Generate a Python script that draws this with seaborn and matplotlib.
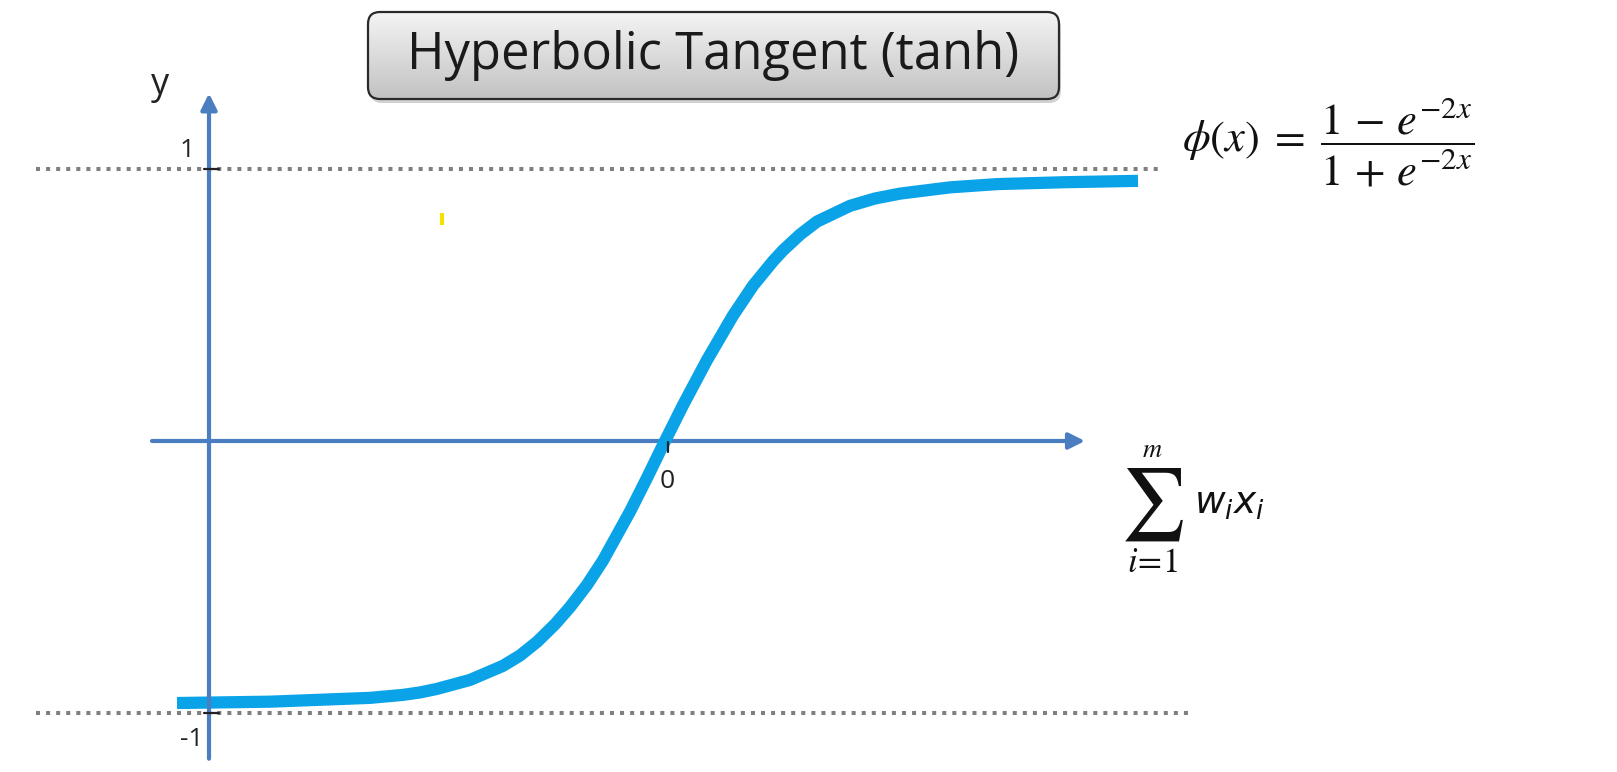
import numpy as np
import matplotlib
matplotlib.use("Agg")
import matplotlib.pyplot as plt
from matplotlib.patches import FancyBboxPatch
from matplotlib.colors import LinearSegmentedColormap
import pandas as pd
import seaborn as sns

# points (x: input, y: output)
curve_x = [-4.88, -3.95, -2.95, -2.62, -2.45, -2.28, -1.95, -1.62, -1.45, -1.28, -1.10,
           -0.95, -0.78, -0.62, -0.35, -0.18, -0.02, 0.18, 0.42, 0.68, 0.88, 1.08,
           1.18, 1.35, 1.52, 1.85, 2.10, 2.35, 2.85, 3.32, 4.00, 4.73]
curve_y = [-0.965, -0.960, -0.946, -0.935, -0.926, -0.913, -0.880, -0.828, -0.790, -0.740, -0.675,
           -0.612, -0.530, -0.440, -0.260, -0.136, -0.015, 0.132, 0.298, 0.462, 0.572, 0.662,
           0.702, 0.760, 0.808, 0.866, 0.893, 0.911, 0.934, 0.946, 0.953, 0.958]

# axis extents and guide lines
x_axis_span = [-5.13, 4.20]
y_axis_span = [-1.17, 1.28]
y_axis_pos = -4.56
top_guide_span = [-6.29, 4.97]
bottom_guide_span = [-6.29, 5.28]

title = "Hyperbolic Tangent (tanh)"
formula = r"$\phi(x)\;=\;\dfrac{1\,-\,e^{-2x}}{1\,+\,e^{-2x}}$"

W, H = 1617, 772
sns.set_style("white")
plt.rcParams["font.family"] = ["Open Sans", "DejaVu Sans"]
plt.rcParams["mathtext.fontset"] = "stix"

fig = plt.figure(figsize=(W / 100, H / 100), dpi=100)
ax = fig.add_axes([0, 0, 1, 1])

axis_col = "#4A7EC0"
guide_col = "#7f7f7f"

# dotted guide lines at +1 / -1
ax.plot(top_guide_span, [1, 1], color=guide_col, lw=2.9, ls=(0, (1, 1.5)),
        dash_capstyle="butt", zorder=1)
ax.plot(bottom_guide_span, [-1, -1], color=guide_col, lw=2.9, ls=(0, (1, 1.5)),
        dash_capstyle="butt", zorder=1)

# x axis (under the curve)
ax.annotate("", xy=(x_axis_span[1], 0), xytext=(x_axis_span[0], 0),
            arrowprops=dict(arrowstyle="-|>", color=axis_col, lw=3, mutation_scale=24,
                            shrinkA=0, shrinkB=0), zorder=2)

# curve
df = pd.DataFrame({"x": curve_x, "y": curve_y})
sns.lineplot(data=df, x="x", y="y", ax=ax, color="#0AA3E8", lw=8.8, sort=False,
             estimator=None, solid_capstyle="butt", solid_joinstyle="round", zorder=3)
ax.set_xlim(-6.65, 9.52)
ax.set_ylim(-1.219, 1.624)
ax.axis("off")

# y axis (over the curve)
ax.annotate("", xy=(y_axis_pos, y_axis_span[1]), xytext=(y_axis_pos, y_axis_span[0]),
            arrowprops=dict(arrowstyle="-|>", color=axis_col, lw=3, mutation_scale=24,
                            shrinkA=0, shrinkB=0), zorder=4)

# tick marks
for v in (1, -1):
    ax.plot([y_axis_pos - 0.05, y_axis_pos + 0.10], [v, v], color="#222222", lw=1.6, zorder=5)
ax.plot([0.03, 0.03], [-0.005, -0.04], color="#222222", lw=1.6, zorder=5)

# labels
ax.text(-5.05, 1.31, "y", fontsize=26, ha="center", va="center", color="#222222")
ax.text(-4.70, 1.07, "1", fontsize=19, ha="right", va="center", color="#222222")
ax.text(-4.62, -1.10, "-1", fontsize=19, ha="right", va="center", color="#222222")
ax.text(0.02, -0.15, "0", fontsize=19, ha="center", va="center", color="#222222")

# small yellow mark
ax.plot([-2.23, -2.23], [0.795, 0.84], color="#F5E100", lw=3, solid_capstyle="butt")

# formula
ax.text(6.63, 1.10, formula, fontsize=32, ha="center", va="center", color="#111111")

# sum label: sigma with limits, then w_i x_i
ax.text(4.87, -0.235, r"$\sum$", fontsize=52, ha="center", va="center", color="#111111")
ax.text(4.87, -0.035, r"$m$", fontsize=19, ha="center", va="center", color="#111111")
ax.text(4.87, -0.45, r"$i\!=\!1$", fontsize=25, ha="center", va="center", color="#111111")
ax.text(5.29, -0.23, r"$w_i x_i$", fontsize=27, ha="left", va="center", color="#111111",
        math_fontfamily="dejavusans")

# title box with gradient and shadow
bx = fig.add_axes([355 / W, 1 - 112 / H, 720 / W, 108 / H])
bx.set_xlim(355, 1075)
bx.set_ylim(H - 112, H - 4)
bx.axis("off")
x0, x1, y0, y1 = 368, 1059, H - 99, H - 12
style = "round,pad=0,rounding_size=12"
shadow = FancyBboxPatch((x0 + 2, y0 - 4), x1 - x0, y1 - y0, boxstyle=style,
                        fc="#000000", ec="none", alpha=0.18, zorder=1)
bx.add_patch(shadow)
box = FancyBboxPatch((x0, y0), x1 - x0, y1 - y0, boxstyle=style,
                     fc="none", ec="#2a2a2a", lw=1.6, zorder=3)
bx.add_patch(box)
cmap = LinearSegmentedColormap.from_list("g", ["#c2c2c2", "#f4f4f4"])
grad = np.linspace(0, 1, 256).reshape(-1, 1)
im = bx.imshow(grad, extent=[x0, x1, y0, y1], origin="lower", cmap=cmap,
               aspect="auto", zorder=2)
im.set_clip_path(box)
bx.text((x0 + x1) / 2, (y0 + y1) / 2, title, fontsize=36.5, ha="center", va="center",
        color="#1a1a1a", zorder=4)

fig.savefig("out.png", dpi=100)
